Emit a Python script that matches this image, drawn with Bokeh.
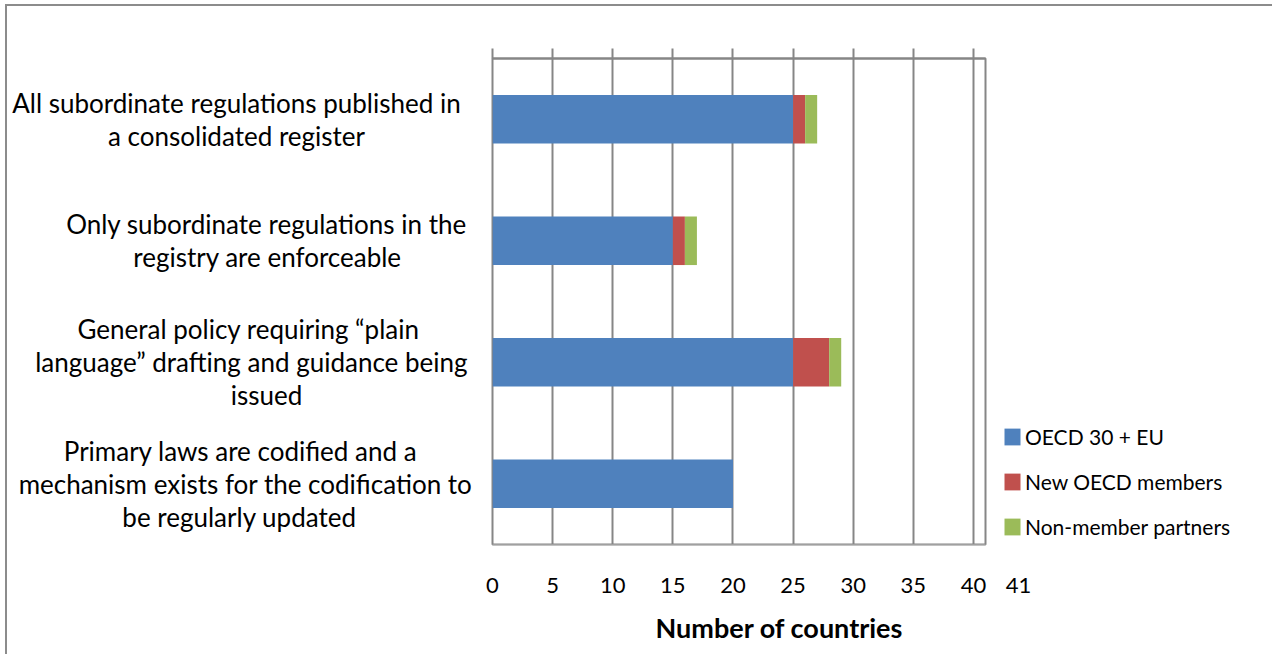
from bokeh.plotting import figure
from bokeh.layouts import row
from bokeh.models import (ColumnDataSource, FactorRange, Range1d, FixedTicker, LinearAxis,
                          Legend, LegendItem, Title)
from bokeh.core.properties import value
from bokeh.embed import file_html
from bokeh.resources import INLINE

# ---- data ----
categories = [
    "All subordinate regulations published in a consolidated register",
    "Only subordinate regulations in the registry are enforceable",
    "General policy requiring “plain language” drafting and guidance being issued",
    "Primary laws are codified and a mechanism exists for the codification to be regularly updated",
]
label_lines = [
    ["All subordinate regulations published in", "a consolidated register"],
    ["Only subordinate regulations in the", "registry are enforceable"],
    ["General policy requiring “plain", "language” drafting and guidance being", "issued"],
    ["Primary laws are codified and a", "mechanism exists for the codification to", "be regularly updated"],
]
oecd30_eu = [25, 15, 25, 20]
new_oecd = [1, 1, 3, 0]
non_member = [1, 1, 1, 0]
series_names = ["OECD 30 + EU", "New OECD members", "Non-member partners"]
x_ticks = [0, 5, 10, 15, 20, 25, 30, 35, 40]
x_max = 41
axis_title = "Number of countries"

# ---- styles / layout ----
colors = ["#4F81BD", "#C0504D", "#9BBB59"]
grid_col = "#868686"
FONT = "Lato"
line_centers = [[236, 236], [266, 267], [248, 251, 266], [240, 245, 239]]  # page-x centres of text lines
line_gap = 33

src = ColumnDataSource(dict(cat=categories, oecd=oecd30_eu, new=new_oecd, non=non_member))
yr = FactorRange(*reversed(categories))

# main chart
p = figure(frame_width=493, frame_height=486, output_backend="svg", toolbar_location=None,
           y_range=yr, x_range=Range1d(0, x_max),
           min_border_left=20, min_border_right=285, min_border_top=52, min_border_bottom=110)
p.background_fill_color = "white"
p.border_fill_color = "white"
p.outline_line_color = grid_col
p.outline_line_width = 2
p.yaxis.visible = False

rs = p.hbar_stack(["oecd", "new", "non"], y="cat", height=0.4, color=colors,
                  line_color=None, source=src)

p.xaxis.ticker = FixedTicker(ticks=x_ticks + [x_max])
p.xaxis.major_label_overrides = {x_max: "\u2003\u2003\u2003\u2003" + str(x_max)}
p.xaxis.axis_line_color = "#A0A0A0"
p.xaxis.axis_line_width = 1
p.xaxis.major_tick_line_color = None
p.xaxis.minor_tick_line_color = None
p.xaxis.major_label_text_font = FONT
p.xaxis.major_label_text_font_size = "22px"
p.xaxis.major_label_text_color = "black"
p.xaxis.major_label_standoff = 20

top = LinearAxis(ticker=FixedTicker(ticks=x_ticks), axis_line_color=grid_col, axis_line_width=2,
                 major_tick_line_color=grid_col, major_tick_line_width=2,
                 major_tick_out=10, major_tick_in=0, minor_tick_line_color=None,
                 major_label_text_font_size="0px", major_label_text_color=None)
p.add_layout(top, "above")

p.xgrid.ticker = FixedTicker(ticks=x_ticks)
p.xgrid.grid_line_color = grid_col
p.xgrid.grid_line_width = 2
p.ygrid.grid_line_color = None

p.add_layout(Title(text=axis_title, align="left", offset=163, text_font=FONT,
                   text_font_size="27px", text_font_style="bold", text_color="black",
                   standoff=16), "below")

legend = Legend(items=[LegendItem(label=n, renderers=[r]) for n, r in zip(series_names, rs)],
                location=(17, 5), orientation="vertical", padding=0, margin=0,
                border_line_color=None, background_fill_alpha=0,
                glyph_width=20, glyph_height=21, label_standoff=3, spacing=20,
                label_text_font=FONT, label_text_font_size="21px", label_text_color="black",
                label_height=17)
p.add_layout(legend, "right")

# category labels panel (shares the categorical y range)
lx, ly, lt, lyo = [], [], [], []
for cat, lines, centers in zip(categories, label_lines, line_centers):
    n = len(lines)
    for i, (ln, c) in enumerate(zip(lines, centers)):
        lx.append(c)
        ly.append(cat)
        lt.append(ln)
        lyo.append((i - (n - 1) / 2) * line_gap)
lab_src = ColumnDataSource(dict(x=lx, y=ly, text=lt, yo=lyo))

lp = figure(width=465, height=648, output_backend="svg", toolbar_location=None,
            y_range=yr, x_range=Range1d(7, 472),
            min_border_left=0, min_border_right=0, min_border_top=52, min_border_bottom=110)
lp.axis.visible = False
lp.grid.visible = False
lp.outline_line_color = None
lp.background_fill_color = "white"
lp.border_fill_color = "white"
lp.text(x="x", y="y", text="text", y_offset="yo", source=lab_src,
        text_font=value(FONT), text_font_size="26px", text_align="center",
        text_baseline="middle", text_color="black")

layout = row(lp, p, spacing=0,
             styles={"margin-left": "5px", "margin-top": "4px",
                     "border-left": "2px solid #8C8C8C", "border-top": "2px solid #8C8C8C",
                     "border-right": "2px solid #8C8C8C"})

open("out.html", "w").write(file_html(layout, INLINE))
